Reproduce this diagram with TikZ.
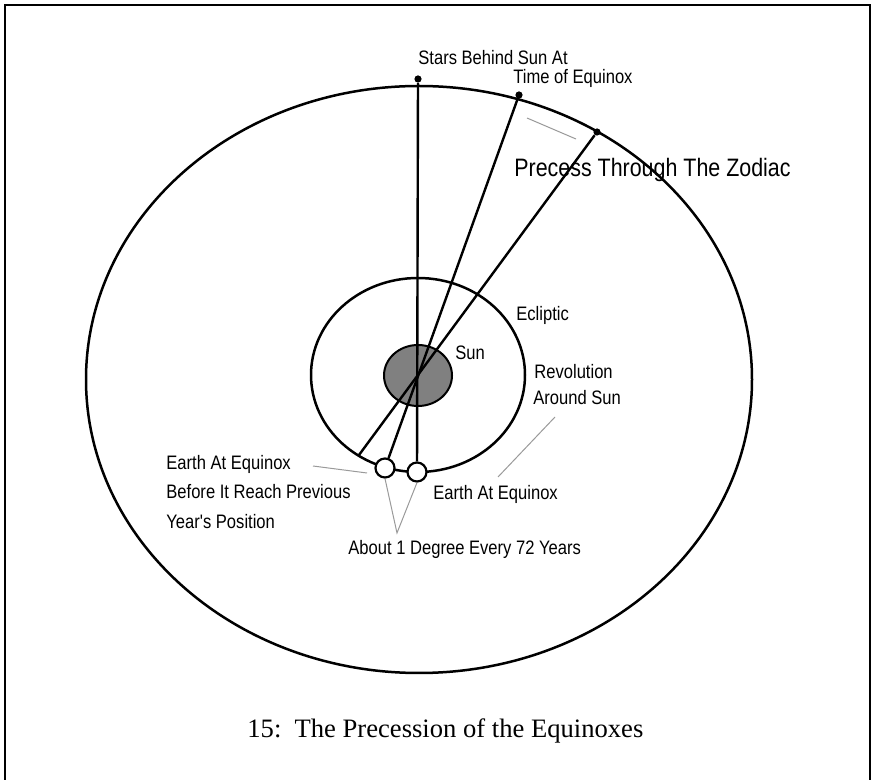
\documentclass[tikz,border=0pt]{standalone}
\usepackage{fontspec}
\setmainfont{Liberation Serif}
\newfontfamily\labelfont[FakeStretch=0.85]{Liberation Sans}
\usepackage{tikz}
\usetikzlibrary{shapes.geometric}
\definecolor{sungray}{HTML}{808080}
\definecolor{leadgray}{HTML}{9A9A9A}

\begin{document}
\begin{tikzpicture}[
    x=0.5pt, y=-0.5pt,
    orbit/.style={line width=1.25pt},
    ray/.style={line width=1.2pt},
    leader/.style={line width=0.5pt, draw=leadgray},
    star/.style={circle, fill=black, inner sep=0pt, minimum size=3.6pt},
    earth/.style={circle, draw, line width=1.1pt, fill=white, inner sep=0pt, minimum size=9.5pt},
    lbl/.style={anchor=base west, inner sep=0pt, font=\labelfont\fontsize{9.75}{12}\selectfont},
    frame/.style={line width=1pt}
]
\useasboundingbox (0,0) rectangle (874,780);

% frame, open at the bottom
\draw[frame] (5,780) -- (5,5) -- (870,5) -- (870,780);

% sky of stars and the earth's orbit
\draw[orbit] (419,379.5) ellipse [x radius=333, y radius=293.5];
\draw[orbit] (418,375) ellipse [x radius=107, y radius=97];
\node[ellipse, draw, line width=1pt, fill=sungray, minimum width=34pt, minimum height=30.5pt, inner sep=0pt] (sun) at (418,375.5) {};

\node[star] (star0) at (418,79) {};
\node[star] (star1) at (519,95) {};
\node[star] (star2) at (597,132) {};
\node[earth] (earthA) at (385,468) {};
\node[earth] (earthB) at (417,472) {};
\coordinate (rayend) at (359,455);

\draw[ray] (star0) -- (earthB);
\draw[ray] (star1) -- (earthA);
\draw[ray] (star2) -- (rayend);

% labels
\node[lbl] (stars) at (418,65) {Stars Behind Sun At};
\node[lbl] (time) at (513,84) {Time of Equinox};
\node[lbl, font=\labelfont\fontsize{12.6}{15}\selectfont] (zodiac) at (514,177) {Precess Through The Zodiac};
\node[lbl] (ecliptic) at (516,321) {Ecliptic};
\node[lbl] (sunlbl) at (455,360) {Sun};
\node[lbl] (rev) at (534,379) {Revolution};
\node[lbl] (around) at (533,405) {Around Sun};
\node[lbl] (eqleft) at (166,470) {Earth At Equinox};
\node[lbl] (before) at (166,499) {Before It Reach Previous};
\node[lbl] (year) at (166,529) {Year's Position};
\node[lbl] (degree) at (348,555) {About 1 Degree Every 72 Years};
\node[lbl] (eqright) at (433,500) {Earth At Equinox};

% leader lines
\coordinate (zodA) at (527,118);
\coordinate (zodB) at (576,139);
\coordinate (eqA) at (313,466);
\coordinate (eqB) at (367,473);
\coordinate (degtip) at (397,533);
\coordinate (revA) at (555,417);
\coordinate (revB) at (498,477);
\draw[leader] (zodA) -- (zodB);
\draw[leader] (eqA) -- (eqB);
\draw[leader] (earthA.south) -- (degtip) -- (earthB.south);
\draw[leader] (revA) -- (revB);

\node[anchor=base west, inner sep=0pt, font=\fontsize{13.3}{16}\selectfont] (caption) at (247,738) {15:\ \ The Precession of the Equinoxes};

\end{tikzpicture}
\end{document}
